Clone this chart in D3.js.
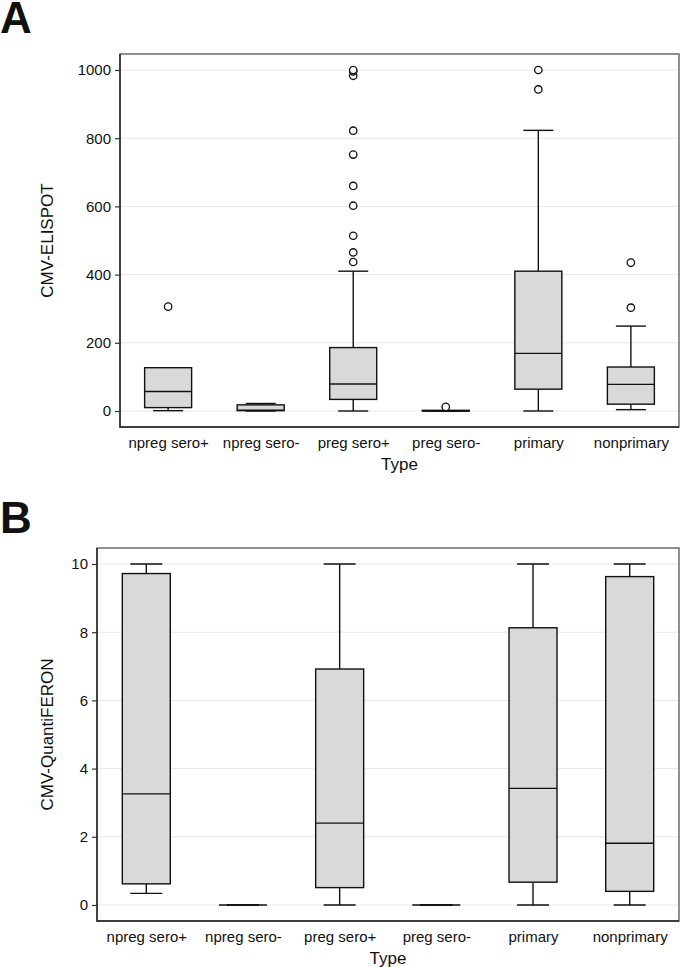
<!DOCTYPE html>
<html><head><meta charset="utf-8">
<script src="https://cdn.jsdelivr.net/npm/d3@7"></script>
<style>
html,body{margin:0;padding:0;background:#fff;}
text{font-family:"Liberation Sans",Arial,Helvetica,sans-serif;fill:#111;}
</style></head>
<body>
<script>
const categories = ["npreg sero+","npreg sero-","preg sero+","preg sero-","primary","nonprimary"];

// Panel A: CMV-ELISPOT
const aLow  = [1, 0, 0, 0, 0, 4];
const aQ1   = [10, 1, 34, 0, 64, 20];
const aMed  = [57, 2, 79, 0, 169, 78];
const aQ3   = [127, 18, 186, 2, 410, 129];
const aHigh = [127, 22, 410, 0, 823, 249];
const aOutliers = [[306], [], [437, 465, 514, 602, 660, 752, 822, 983, 996, 1000], [12], [943, 1000], [303, 435]];
const aTicks = [0, 200, 400, 600, 800, 1000];

// Panel B: CMV-QuantiFERON
const bLow  = [0.34, 0, 0, 0, 0, 0];
const bQ1   = [0.62, 0, 0.51, 0, 0.67, 0.40];
const bMed  = [3.26, 0, 2.40, 0, 3.42, 1.81];
const bQ3   = [9.72, 0, 6.92, 0, 8.13, 9.63];
const bHigh = [10, 0, 10, 0, 10, 10];
const bOutliers = [[], [], [], [], [], []];
const bTicks = [0, 2, 4, 6, 8, 10];

const W = 680, H = 967;
const svg = d3.select("body").append("svg").attr("width", W).attr("height", H);

function panel(cfg){
  const g = svg.append("g");
  const x = d3.scalePoint().domain(categories).range([cfg.left, cfg.right]).padding(cfg.pad);
  const y = d3.scaleLinear().domain(cfg.domain).range([cfg.y0, cfg.yTop]);
  // gridlines
  g.selectAll(".grid").data(cfg.ticks).enter().append("line")
    .attr("x1", cfg.left).attr("x2", cfg.right)
    .attr("y1", d => y(d)).attr("y2", d => y(d))
    .attr("stroke", "#e8e8e8").attr("stroke-width", 1);
  // frame
  g.append("rect").attr("x", cfg.left).attr("y", cfg.top)
    .attr("width", cfg.right - cfg.left).attr("height", cfg.bottom - cfg.top)
    .attr("fill", "none").attr("stroke", "#555").attr("stroke-width", 1.3);
  g.append("path").attr("d", `M${cfg.left},${cfg.top}V${cfg.bottom}H${cfg.right}`)
    .attr("fill", "none").attr("stroke", "#222").attr("stroke-width", 1.4);
  // y axis
  const yAxis = d3.axisLeft(y).tickValues(cfg.ticks).tickFormat(d3.format("d")).tickSize(5).tickPadding(4);
  const ax = g.append("g").attr("transform", `translate(${cfg.left},0)`).call(yAxis);
  ax.select(".domain").remove();
  ax.selectAll(".tick line").attr("stroke", "#333").attr("stroke-width", 1.2);
  ax.selectAll(".tick text").attr("font-size", 15).attr("font-family", "Liberation Sans, Arial, sans-serif").attr("fill", "#111");
  // x labels
  const xAxis = d3.axisBottom(x).tickSize(0).tickPadding(10);
  const bx = g.append("g").attr("transform", `translate(0,${cfg.bottom})`).call(xAxis);
  bx.select(".domain").remove();
  bx.selectAll(".tick text").attr("font-size", 15).attr("font-family", "Liberation Sans, Arial, sans-serif").attr("fill", "#111");
  // titles
  g.append("text").attr("x", (cfg.left + cfg.right)/2).attr("y", cfg.bottom + 43)
    .attr("text-anchor", "middle").attr("font-size", 17).text("Type");
  g.append("text").attr("transform", `translate(${cfg.ytitleX},${(cfg.top + cfg.bottom)/2}) rotate(-90)`)
    .attr("text-anchor", "middle").attr("font-size", 17).text(cfg.ytitle);
  g.append("text").attr("x", 0).attr("y", cfg.letterY).attr("font-size", 44)
    .attr("font-weight", "bold").attr("font-family", "Liberation Sans, Arial, sans-serif").text(cfg.letter);

  const bw = cfg.boxW, cw = cfg.capW;
  categories.forEach((c, i) => {
    const cx = x(c);
    const s = cfg.stats;
    const bg = g.append("g");
    // whiskers
    bg.append("line").attr("x1", cx).attr("x2", cx).attr("y1", y(s.q3[i])).attr("y2", y(s.high[i])).attr("stroke", "#111").attr("stroke-width", 1.4);
    bg.append("line").attr("x1", cx).attr("x2", cx).attr("y1", y(s.q1[i])).attr("y2", y(s.low[i])).attr("stroke", "#111").attr("stroke-width", 1.4);
    bg.append("line").attr("x1", cx - cw/2).attr("x2", cx + cw/2).attr("y1", y(s.high[i])).attr("y2", y(s.high[i])).attr("stroke", "#111").attr("stroke-width", 1.4);
    bg.append("line").attr("x1", cx - cw/2).attr("x2", cx + cw/2).attr("y1", y(s.low[i])).attr("y2", y(s.low[i])).attr("stroke", "#111").attr("stroke-width", 1.4);
    // box
    bg.append("rect").attr("x", cx - bw/2).attr("width", bw)
      .attr("y", y(s.q3[i])).attr("height", Math.max(0, y(s.q1[i]) - y(s.q3[i])))
      .attr("fill", "#d9d9d9").attr("stroke", "#111").attr("stroke-width", 1.4);
    bg.append("line").attr("x1", cx - bw/2).attr("x2", cx + bw/2).attr("y1", y(s.med[i])).attr("y2", y(s.med[i])).attr("stroke", "#111").attr("stroke-width", 1.4);
    // outliers
    bg.selectAll("circle").data(s.out[i]).enter().append("circle")
      .attr("cx", cx).attr("cy", d => y(d)).attr("r", 3.7)
      .attr("fill", "#fff").attr("stroke", "#111").attr("stroke-width", 1.3);
  });
}

panel({
  left: 120, right: 679, top: 54, bottom: 427, pad: 0.52,
  domain: [0, 1000], y0: 411, yTop: 70, ticks: aTicks,
  boxW: 47, capW: 30, ytitle: "CMV-ELISPOT", ytitleX: 53, letter: "A", letterY: 33,
  stats: {low: aLow, q1: aQ1, med: aMed, q3: aQ3, high: aHigh, out: aOutliers}
});
panel({
  left: 97, right: 679, top: 548, bottom: 921, pad: 0.51,
  domain: [0, 10], y0: 905, yTop: 564, ticks: bTicks,
  boxW: 48, capW: 32, ytitle: "CMV-QuantiFERON", ytitleX: 53, letter: "B", letterY: 533,
  stats: {low: bLow, q1: bQ1, med: bMed, q3: bQ3, high: bHigh, out: bOutliers}
});
</script>
</body></html>
